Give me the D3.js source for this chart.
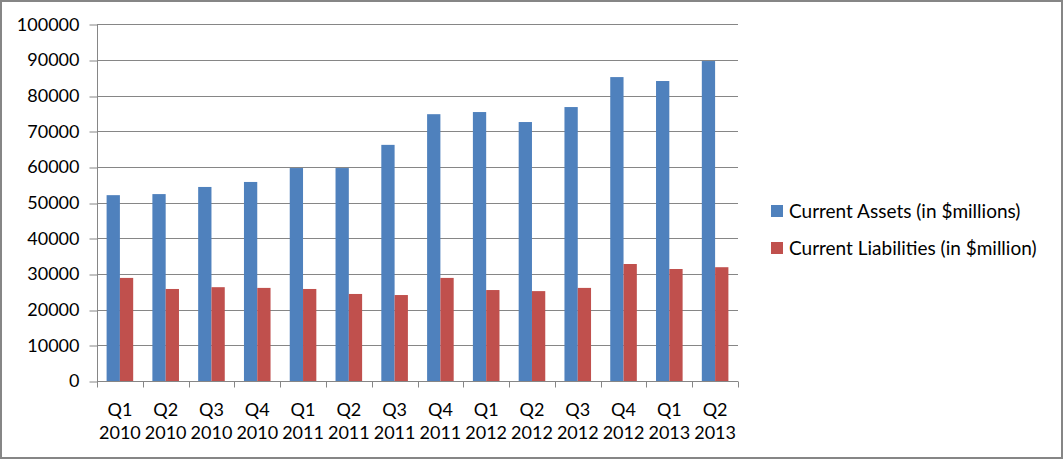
<!DOCTYPE html>
<html><head><meta charset="utf-8">
<script src="https://cdn.jsdelivr.net/npm/d3@7"></script>
<style>html,body{margin:0;padding:0;background:#fff;}svg{display:block;font-family:Lato,"Open Sans",sans-serif;}</style>
</head><body>
<svg id="c" width="1064" height="460"></svg>
<script>
const quarters = ["Q1","Q2","Q3","Q4","Q1","Q2","Q3","Q4","Q1","Q2","Q3","Q4","Q1","Q2"];
const years = ["2010","2010","2010","2010","2011","2011","2011","2011","2012","2012","2012","2012","2013","2013"];
const assets = [52100,52400,54400,55800,59700,59700,66200,74800,75400,72600,76800,85200,84100,89700];
const liabilities = [28900,25800,26300,26100,25800,24400,24100,28900,25500,25200,26100,32800,31400,31900];
const seriesNames = ["Current Assets (in $millions)","Current Liabilities (in $million)"];
const yTicks = [0,10000,20000,30000,40000,50000,60000,70000,80000,90000,100000];

const colors = ["#4F81BD","#C0504D"];
const grid = "#868686";
const svg = d3.select("#c");
const L=97, R=738, T=24.3, B=381;
const cats = quarters.map((q,i)=>i);
const x = d3.scaleBand().domain(cats).range([L,R]).paddingInner(0).paddingOuter(0);
const y = d3.scaleLinear().domain([0,100000]).range([B,T]);
const inner = d3.scaleBand().domain([0,1]).range([9.6, x.bandwidth()-9.6]);

// border
svg.append("rect").attr("x",1).attr("y",1).attr("width",1061).attr("height",457)
  .attr("fill","none").attr("stroke",grid).attr("stroke-width",2);

// gridlines
svg.append("g").selectAll("line").data(yTicks.slice(1)).join("line")
  .attr("x1",L).attr("x2",R).attr("y1",d=>Math.round(y(d))+0.5).attr("y2",d=>Math.round(y(d))+0.5)
  .attr("stroke",grid).attr("stroke-width",1);

// y axis
const yAxis = svg.append("g").attr("transform",`translate(${L+0.5},0)`)
  .call(d3.axisLeft(y).tickValues(yTicks).tickSize(8).tickPadding(10).tickFormat(d3.format("d")));
yAxis.select(".domain").attr("stroke",grid).attr("d",`M-0,${B}V${T}`);
yAxis.selectAll(".tick line").attr("stroke",grid).attr("transform",d=>`translate(0,${Math.round(y(d))+0.5-y(d)})`);
yAxis.selectAll(".tick text").attr("fill","#000").style("font-size","18px").style("font-family","Lato");

// bars
const g = svg.append("g");
[assets,liabilities].forEach((vals,si)=>{
  g.append("g").selectAll("rect").data(vals).join("rect")
   .attr("x",(d,i)=>x(i)+inner(si)).attr("width",inner.bandwidth())
   .attr("y",d=>y(d)).attr("height",d=>B-y(d)).attr("fill",colors[si]);
});

// x axis
const xAxis = svg.append("g").attr("transform",`translate(0,${B+0.5})`);
xAxis.append("line").attr("x1",L).attr("x2",R).attr("stroke",grid);
const bounds = d3.range(quarters.length+1).map(i=> i<quarters.length ? x(i) : R);
xAxis.selectAll(".t").data(bounds).join("line").attr("class","t")
  .attr("x1",d=>Math.round(d)+0.5).attr("x2",d=>Math.round(d)+0.5).attr("y1",0).attr("y2",6).attr("stroke",grid);
const lab = xAxis.selectAll(".lab").data(cats).join("text").attr("class","lab")
  .attr("text-anchor","middle").style("font-size","18px").attr("fill","#000")
  .attr("transform",d=>`translate(${x(d)+x.bandwidth()/2},0)`);
lab.append("tspan").attr("x",0).attr("y",28).attr("dy","0.35em").text(d=>quarters[d]);
lab.append("tspan").attr("x",0).attr("y",51).attr("dy","0.35em").text(d=>years[d]);

// legend
const leg = svg.append("g").selectAll("g").data(seriesNames).join("g")
  .attr("transform",(d,i)=>`translate(771,${211+i*37})`);
leg.append("rect").attr("x",0).attr("y",-6).attr("width",12).attr("height",12).attr("fill",(d,i)=>colors[i]);
leg.append("text").attr("x",18).attr("y",0).attr("dy","0.35em").style("font-size","19px").attr("fill","#000").text(d=>d);
</script>
</body></html>
